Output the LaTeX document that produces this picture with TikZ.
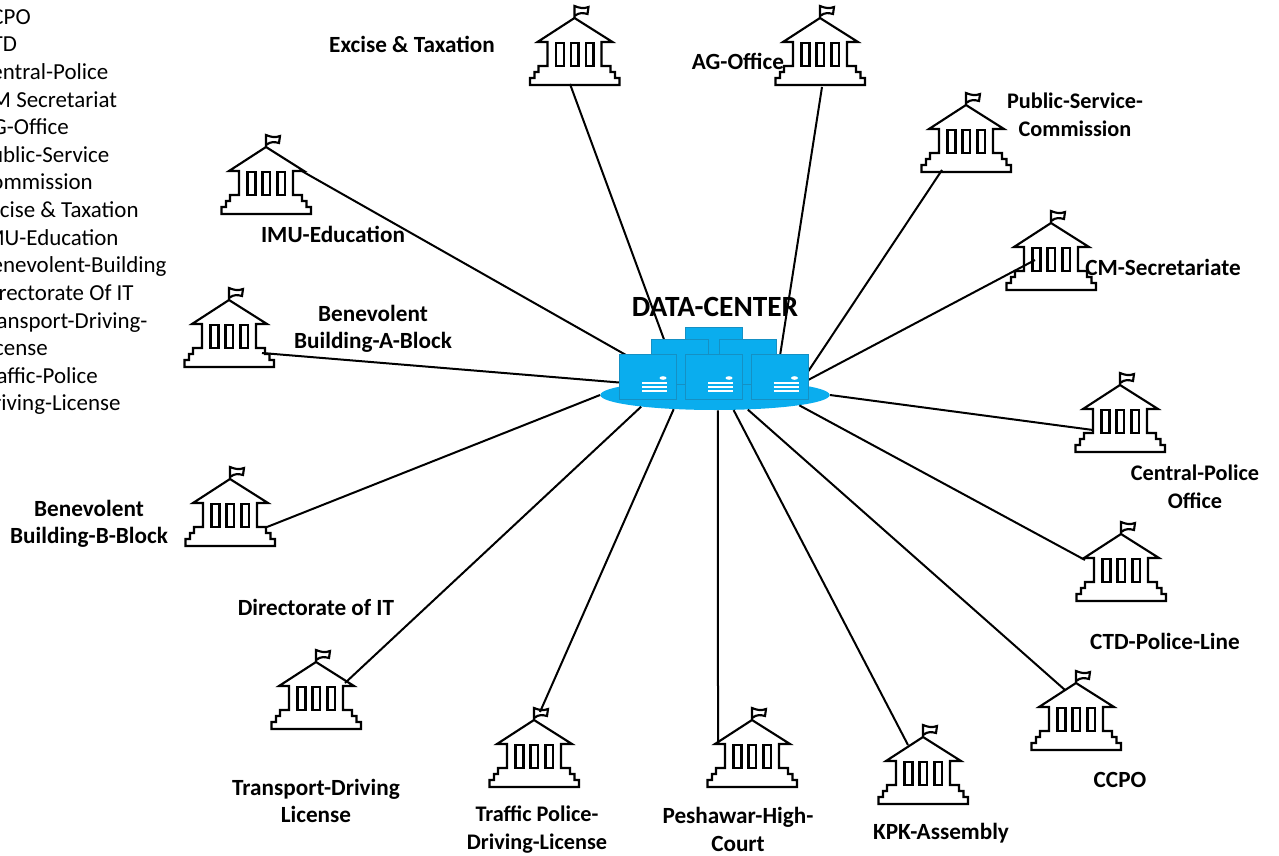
\documentclass[tikz,border=0pt]{standalone}
\usepackage{fontspec}
\setmainfont{Carlito}
\usetikzlibrary{shapes.geometric}
\definecolor{dcblue}{HTML}{0AADEE}
\definecolor{dcedge}{HTML}{1590C4}
\tikzset{
	link/.style={line width=1.5pt, black},
	lbl/.style={font=\bfseries\fontsize{17.4pt}{20.7pt}\selectfont, align=center, inner sep=0pt},
	lblsmall/.style={lbl, font=\bfseries\fontsize{16.7pt}{20.7pt}\selectfont},
	dcbox/.style={rectangle, fill=dcblue, draw=dcedge, line width=0.5pt, minimum width=43pt, minimum height=34pt, inner sep=0pt},
	bank/.pic={
		\draw[line width=1.6pt, line join=miter] (0,-67) -- (-37,-43) -- (-27,-43) -- (-27,-19) -- (-36,-19) -- (-36,-13) -- (-40,-13) -- (-40,-7) -- (-44.5,-7) -- (-44.5,0) -- (45,0) -- (45,-7) -- (40.5,-7) -- (40.5,-13) -- (36,-13) -- (36,-19) -- (27,-19) -- (27,-43) -- (38,-43) -- cycle;
		\draw[line width=1.6pt] (-18.5,-42) rectangle (-10.5,-19);
		\draw[line width=1.6pt] (-3.5,-42) rectangle (4,-19);
		\draw[line width=1.6pt] (11.5,-42) rectangle (19,-19);
		\draw[line width=1.6pt] (0,-67) -- (0,-79) .. controls (5,-77) and (9,-76) .. (14,-78) -- (13,-71) .. controls (9,-72) and (5,-73) .. (0,-69);
	},
	dcmarks/.pic={
		\fill[white] (15,1) ellipse (3.5 and 1.8);
		\draw[white, line width=0.9pt] (-6,6) -- (19,6);
		\draw[white, line width=0.9pt] (-6,10) -- (19,10);
		\draw[white, line width=0.9pt] (-6,14) -- (19,14);
	}
}
\begin{document}
\begin{tikzpicture}[x=0.75pt, y=-0.75pt]
	\useasboundingbox (0,0) rectangle (1279,856);
	\clip (0,0) rectangle (1279,856);

	\node[font=\fontsize{17.2pt}{20.72pt}\selectfont, align=left, inner sep=0pt, anchor=north west] (LIST) at (-21,9) {CCPO\\CTD\\Central-Police\\CM Secretariat\\AG-Office\\Public-Service\\Commission\\Excise \& Taxation\\IMU-Education\\Benevolent-Building\\Directorate Of IT\\Transport-Driving-\\License\\Traffic-Police\\Driving-License};

	\node[ellipse, fill=dcblue, minimum width=172pt, minimum height=22.5pt, inner sep=0pt] (DC) at (715,395) {};

	\pic at (574.5,85) {bank};
	\pic at (820,85) {bank};
	\pic at (966,172) {bank};
	\pic at (1051,290) {bank};
	\pic at (1120,452) {bank};
	\pic at (1121,601) {bank};
	\pic at (1076,750) {bank};
	\pic at (923,804) {bank};
	\pic at (752,787) {bank};
	\pic at (534,787) {bank};
	\pic at (316,729) {bank};
	\pic at (230,546) {bank};
	\pic at (229,367) {bank};
	\pic at (266,214) {bank};

	\coordinate (Pexcise) at (570,84);
	\coordinate (Pag) at (822,87);
	\coordinate (Ppsc) at (942,170);
	\coordinate (Pcm) at (1035,260);
	\coordinate (Pcentral) at (1093,430);
	\coordinate (Pctd) at (1085,560);
	\coordinate (Pccpo) at (1065,690);
	\coordinate (Pkpk) at (908,745);
	\coordinate (Phigh) at (718,742);
	\coordinate (Ptraffic) at (540,712);
	\coordinate (Ptransport) at (345,683);
	\coordinate (Pbblock) at (267,527);
	\coordinate (Pablock) at (262,353);
	\coordinate (Pimu) at (300,170);

	\draw[link] (Pexcise) -- (DC.158.7);
	\draw[link] (Pag) -- (DC.12.6);
	\draw[link] (Ppsc) -- (DC.7.8);
	\draw[link] (Pcm) -- (DC.7.5);
	\draw[link] (Pcentral) -- (DC.0);
	\draw[link] (Pctd) -- (DC.-7.1);
	\draw[link] (Pccpo) -- (DC.-24);
	\draw[link] (Pkpk) -- (DC.-39.8);
	\draw[link] (Phigh) -- (DC.-79);
	\draw[link] (Ptraffic) -- (DC.199.3);
	\draw[link] (Ptransport) -- (DC.189.1);
	\draw[link] (Pbblock) -- (DC.180);
	\draw[link] (Pablock) -- (DC.172.4);
	\draw[link] (Pimu) -- (DC.162);

	\node[dcbox] (S1) at (714,350) {};
	\node[dcbox] (S2) at (680,362) {};
	\node[dcbox] (S3) at (747.5,362) {};
	\node[dcbox] (S4) at (648,377) {};
	\node[dcbox] (S5) at (714,377) {};
	\node[dcbox] (S6) at (779.5,377) {};
	\pic at (S4) {dcmarks};
	\pic at (S5) {dcmarks};
	\pic at (S6) {dcmarks};

	\node[font=\bfseries\fontsize{22pt}{26pt}\selectfont, inner sep=0pt] (TITLE) at (715,307) {DATA-CENTER};

	\node[lbl] (L1) at (412,44) {Excise \& Taxation};
	\node[lbl] (L2) at (738,61) {AG-Office};
	\node[lblsmall] (L3) at (1075,115) {Public-Service-\\Commission};
	\node[lbl] (L4) at (1163,267) {CM-Secretariate};
	\node[lblsmall] (L5) at (1195,487) {Central-Police\\Office};
	\node[lbl] (L6) at (1165,641) {CTD-Police-Line};
	\node[lbl] (L7) at (1120,780) {CCPO};
	\node[lbl] (L8) at (941,833) {KPK-Assembly};
	\node[lbl] (L9) at (738,829.5) {Peshawar-High-\\Court};
	\node[lblsmall] (L10) at (537,829.5) {Traffic Police-\\Driving-License};
	\node[lbl] (L11) at (316,801) {Transport-Driving\\License};
	\node[lbl] (L12) at (316,607) {Directorate of IT};
	\node[lbl] (L13) at (89,524) {Benevolent\\Building-B-Block};
	\node[lbl] (L14) at (373,329) {Benevolent\\Building-A-Block};
	\node[lbl] (L15) at (333,234) {IMU-Education};
\end{tikzpicture}
\end{document}
